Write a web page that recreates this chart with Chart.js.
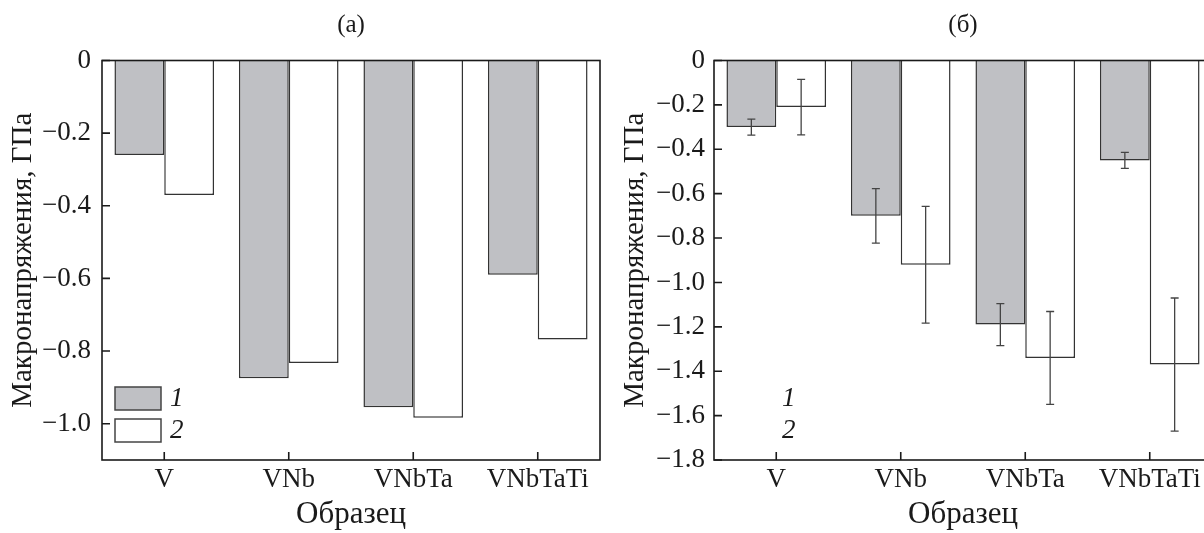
<!DOCTYPE html>
<html><head><meta charset="utf-8">
<script src="https://cdn.jsdelivr.net/npm/chart.js@4/dist/chart.umd.min.js"></script>
<style>
html,body{margin:0;padding:0;background:#fff;overflow:hidden;width:1204px;height:533px}
#wa{position:absolute;left:0;top:0;width:602px;height:533px}
#wb{position:absolute;left:602px;top:0;width:612px;height:533px}
</style></head><body>
<div id="wa"><canvas id="ca" width="602" height="533"></canvas></div>
<div id="wb"><canvas id="cb" width="612" height="533"></canvas></div>
<script>
// ---- data ----
const categories = ['V', 'VNb', 'VNbTa', 'VNbTaTi'];
const seriesLabels = ['1', '2'];
const aSeries1 = [-0.26, -0.875, -0.955, -0.59];
const aSeries2 = [-0.37, -0.833, -0.984, -0.768];
const bSeries1 = [-0.30, -0.70, -1.19, -0.45];
const bSeries2 = [-0.21, -0.92, -1.34, -1.37];
const bErr1 = [0.036, 0.123, 0.095, 0.036];
const bErr2 = [0.125, 0.263, 0.209, 0.30];
const aTicks = [0, -0.2, -0.4, -0.6, -0.8, -1.0];
const bTicks = [0, -0.2, -0.4, -0.6, -0.8, -1.0, -1.2, -1.4, -1.6, -1.8];
const aMin = -1.1, bMin = -1.8;
const titleA = '(а)', titleB = '(б)';
const xTitle = 'Образец';
const yTitle = 'Макронапряжения, ГПа';

const FONT = '"Liberation Serif", "Times New Roman", serif';
const INK = '#1a1a1a';
const GRAY = '#bfc0c4';

function fmt(v) {
  if (Math.abs(v) < 1e-9) return '0';
  return (v < 0 ? '\u2212' : '') + Math.abs(v).toFixed(1);
}

const decor = {
  id: 'decor',
  afterDatasetsDraw(chart, args, opts) {
    const ctx = chart.ctx, a = chart.chartArea, xs = chart.scales.x, ys = chart.scales.y;
    ctx.save();
    // error bars
    chart.data.datasets.forEach((ds, i) => {
      if (!ds.errors) return;
      const meta = chart.getDatasetMeta(i);
      meta.data.forEach((bar, j) => {
        const v = ds.data[j], e = ds.errors[j];
        const x = bar.x, y1 = ys.getPixelForValue(v + e), y2 = ys.getPixelForValue(v - e);
        ctx.strokeStyle = '#444'; ctx.lineWidth = 1.3;
        ctx.beginPath();
        ctx.moveTo(x, y1); ctx.lineTo(x, y2);
        ctx.moveTo(x - 4, y1); ctx.lineTo(x + 4, y1);
        ctx.moveTo(x - 4, y2); ctx.lineTo(x + 4, y2);
        ctx.stroke();
      });
    });
    // frame
    ctx.strokeStyle = INK; ctx.lineWidth = 1.6;
    ctx.strokeRect(a.left, a.top, a.right - a.left, a.bottom - a.top);
    // inward tick marks
    ctx.beginPath();
    ys.ticks.forEach(t => { const y = ys.getPixelForValue(t.value); ctx.moveTo(a.left, y); ctx.lineTo(a.left + 8, y); });
    xs.ticks.forEach((t, i) => { const x = xs.getPixelForTick(i); ctx.moveTo(x, a.bottom); ctx.lineTo(x, a.bottom - 8); });
    ctx.stroke();
    // legend
    chart.data.datasets.forEach((ds, i) => {
      const top = a.bottom - 73 + i * 32;
      if (opts.showBoxes) {
        ctx.fillStyle = ds.backgroundColor;
        ctx.fillRect(a.left + 13, top, 46, 23);
        ctx.strokeStyle = '#444'; ctx.lineWidth = 1.5;
        ctx.strokeRect(a.left + 13, top, 46, 23);
      }
      ctx.fillStyle = INK;
      ctx.font = 'italic 27px ' + FONT;
      ctx.textAlign = 'left'; ctx.textBaseline = 'middle';
      ctx.fillText(ds.label, a.left + 68, top + 12);
    });
    ctx.restore();
  }
};

function makeChart(id, s1, s2, e1, e2, ticks, min, title, padLeft, showBoxes, labPad) {
  const ds1 = { label: seriesLabels[0], data: s1, backgroundColor: GRAY, borderColor: '#333', borderWidth: 1.5,
    categoryPercentage: 0.8, barPercentage: 1.0 };
  const ds2 = { label: seriesLabels[1], data: s2, backgroundColor: '#ffffff', borderColor: '#333', borderWidth: 1.5,
    categoryPercentage: 0.8, barPercentage: 1.0 };
  if (e1) ds1.errors = e1;
  if (e2) ds2.errors = e2;
  return new Chart(document.getElementById(id), {
    type: 'bar',
    data: { labels: categories, datasets: [ds1, ds2] },
    plugins: [decor],
    options: {
      responsive: false, animation: false,
      layout: { padding: { left: padLeft, right: 2, top: 0, bottom: 0 } },
      plugins: {
        legend: { display: false }, tooltip: { enabled: false },
        title: { display: true, text: title, fullSize: false, color: INK,
          font: { family: FONT, size: 25, weight: 'normal' }, padding: { top: 10, bottom: 20.5 } },
        decor: { showBoxes: showBoxes }
      },
      scales: {
        x: {
          grid: { display: false, drawTicks: false }, border: { display: false },
          ticks: { font: { family: FONT, size: 27 }, color: INK, padding: 4, maxRotation: 0, autoSkip: false },
          title: { display: true, text: xTitle, color: INK, font: { family: FONT, size: 31 }, padding: { top: 0, bottom: 0 } },
          afterFit(s) { s.height = 73; }
        },
        y: {
          min: min, max: 0,
          grid: { display: false, drawTicks: false }, border: { display: false },
          ticks: { font: { family: FONT, size: 27 }, color: INK, padding: labPad, callback: v => fmt(v) },
          afterBuildTicks(s) { s.ticks = ticks.map(v => ({ value: v })); },
          title: { display: true, text: yTitle, color: INK, font: { family: FONT, size: 29 }, padding: { top: 5.6, bottom: 0 } },
          afterFit(s) { s.width = 102; }
        }
      }
    }
  });
}

makeChart('ca', aSeries1, aSeries2, null, null, aTicks, aMin, titleA, 0, true, 11);
makeChart('cb', bSeries1, bSeries2, bErr1, bErr2, bTicks, bMin, titleB, 10, false, 9);
</script>
</body></html>
